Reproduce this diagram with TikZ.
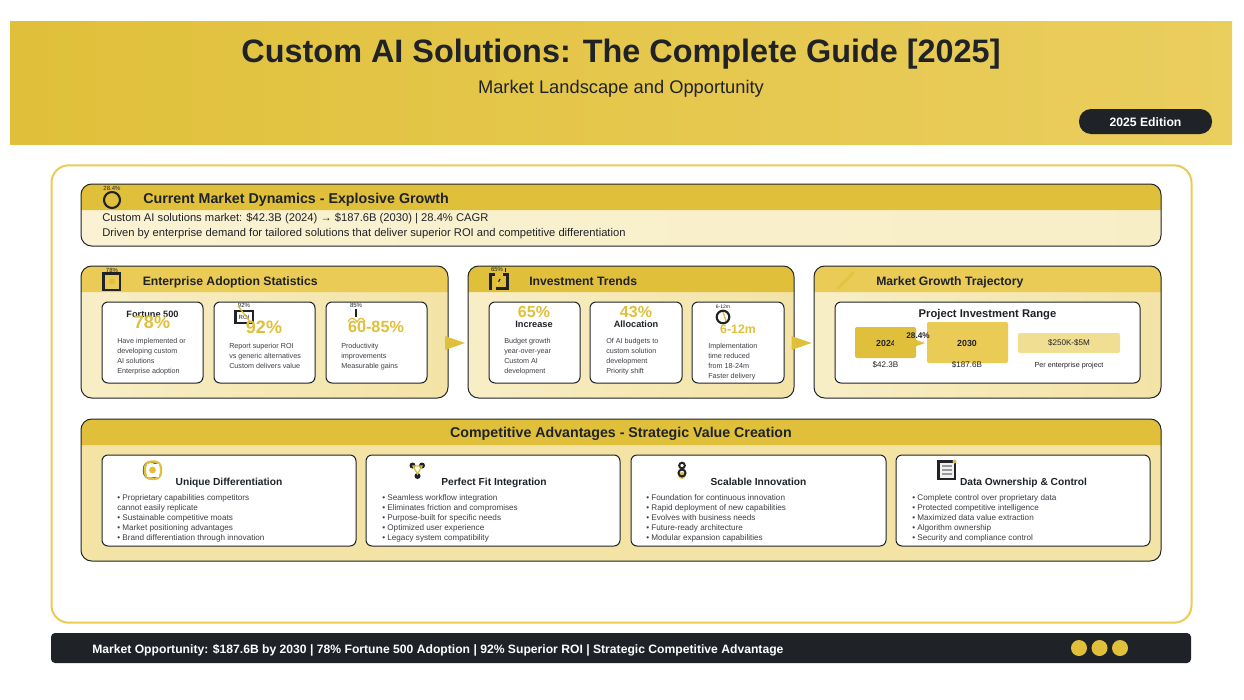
\documentclass[tikz,border=0pt]{standalone}
\usepackage{fontspec}
\setmainfont{Liberation Sans}
\usetikzlibrary{calc}
\definecolor{ink}{HTML}{1F2328}
\definecolor{gA}{HTML}{E0C03A}
\definecolor{gB}{HTML}{E9CB55}
\definecolor{gC}{HTML}{F0DE92}
\definecolor{bA}{HTML}{FAF2D2}
\definecolor{bB}{HTML}{F8EEC6}
\definecolor{bC}{HTML}{F3E3A5}
\definecolor{body}{HTML}{3C3F44}
\newcount\tc
\newcommand\B{\bfseries}
\newcommand\lab[4][]{\global\advance\tc by 1
  \pgfmathsetmacro\fs{#3*0.75}\pgfmathsetmacro\th{#3*0.75*0.72}\pgfmathsetmacro\ls{#3*0.9}
  \node[inner sep=0,text=ink,text height=\th pt,text depth=0pt,font=\fontsize{\fs pt}{\ls pt}\selectfont,#1] (t\the\tc) at (#2) {#4};}
\newcommand\panel[9]{%
  \pgfmathsetmacro\pw{(#4-#2)*0.75}\pgfmathsetmacro\ph{(#5-#3)*0.75}
  \path[shade,shading angle=60,left color=#8,right color=#9,rounded corners=8pt] (#2,#3) rectangle (#4,#5);
  \path[shade,left color=#7,right color=\headB] (#2,#6) [rounded corners=8pt] -- (#2,#3) -- (#4,#3) [sharp corners] -- (#4,#6) -- cycle;
  \node[draw=ink,line width=.75pt,rounded corners=8pt,minimum width=\pw pt,minimum height=\ph pt,inner sep=0,outer sep=0] (#1) at ($(#2,#3)!.5!(#4,#5)$) {};
}
\newcommand\card[5]{%
  \pgfmathsetmacro\pw{(#4-#2)*0.75}\pgfmathsetmacro\ph{(#5-#3)*0.75}
  \node[draw=ink,fill=white,line width=.75pt,rounded corners=4.5pt,minimum width=\pw pt,minimum height=\ph pt,inner sep=0,outer sep=0] (#1) at ($(#2,#3)!.5!(#4,#5)$) {};
}
% \lines{size}{x}{first y}{list}
\newcommand\lines[4]{%
  \foreach \s [count=\i from 0] in {#4} {\pgfmathsetmacro\yy{#3+\i*10}\lab[anchor=west,text=body]{#2,\yy}{#1}{\s}}%
}
\begin{document}
\begin{tikzpicture}[x=0.75pt,y=-0.75pt]
\useasboundingbox (0,0) rectangle (1244,699);
\fill[white] (0,0) rectangle (1244,699);
\node[minimum width=916.5pt,minimum height=91.5pt,inner sep=0,outer sep=0,shade,shading angle=70,left color=gA,right color=gB!85!gC] (band) at (621,83) {};
\lab{621,51}{32.4}{\B Custom AI Solutions: The Complete Guide [2025]}
\lab{621,87}{18.3}{Market Landscape and Opportunity}
\node[fill=ink,rounded corners=9pt,minimum width=99.75pt,minimum height=18.75pt,inner sep=0] (pill) at (1145.5,121.5) {};
\lab[text=white]{1145.5,122}{12.2}{\B 2025 Edition}
\node[draw=gB,fill=white,line width=1.5pt,rounded corners=13pt,minimum width=855pt,minimum height=343pt,inner sep=0,outer sep=0] (main) at (621.5,394) {};
% dynamics
\def\headB{gA}
\panel{dyn}{81}{184}{1161}{246}{210}{gA}{bA}{bB}
\lab[anchor=west]{143,198}{14.25}{\B Current Market Dynamics - Explosive Growth}
\lab[anchor=west]{102,217.5}{11.2}{Custom AI solutions market: \$42.3B (2024) → \$187.6B (2030) | 28.4\% CAGR}
\lab[anchor=west]{102,232.5}{11.2}{Driven by enterprise demand for tailored solutions that deliver superior ROI and competitive differentiation}
\draw[ink,line width=1.6pt] (112,200) circle (8);
\lab{112,188}{6}{28.4\%}
% adoption
\def\headB{gB}
\panel{adopt}{81}{266}{448}{398}{292}{gB}{bB}{bC}
\lab[anchor=west]{142.5,281}{12.2}{\B Enterprise Adoption Statistics}
\draw[ink,line width=1.7pt,fill=gB] (103.5,273.5) rectangle (120,290);
\fill[gA] (112,281.5) circle (3);
\lab{112,270}{6}{78\%}
\card{c1}{102}{302}{203}{383}
\card{c2}{214}{302}{315}{383}
\card{c3}{326}{302}{427}{383}
\lab{152.5,314}{9.2}{\B Fortune 500}
\lab[text=gA]{152,322}{18}{\B 78\%}
\lines{7.2}{117}{340.5}{Have implemented or,developing custom,AI solutions,Enterprise adoption}
\draw[ink,line width=1.7pt,fill=white] (235.5,311) rectangle (253,323);
\lab{244,317}{6}{ROI}
\lab{244,305}{6}{92\%}
\draw[gA,line width=1pt] (238,306) -- (251,323);
\lab[text=gA]{264,327}{18}{\B 92\%}
\lines{7.2}{229}{345.5}{Report superior ROI,vs generic alternatives,Custom delivers value}
\lab{356,305}{6}{85\%}
\draw[ink,line width=1.7pt] (356,309) -- (356,317);
\draw[gA,line width=.9pt] (348,322) .. controls (350,317) and (354,317) .. (357,322) .. controls (359,317) and (363,317) .. (365,322);
\lab[text=gA]{376,327}{16.2}{\B 60-85\%}
\lines{7.2}{341}{345.5}{Productivity,improvements,Measurable gains}
% investment
\def\headB{gA}
\panel{invest}{468}{266}{794}{398}{292}{gA}{bB}{bC}
\lab[anchor=west]{529,281}{12.2}{\B Investment Trends}
\draw[ink,line width=1.7pt] (495,274.5) -- (490.5,274.5) -- (490.5,288.5) -- (492,288.5);
\draw[ink,line width=1.7pt] (496,288.5) -- (507.5,288.5) -- (507.5,274.5) -- (503,274.5);
\draw[ink,line width=.9pt] (500,279) -- (498.5,282);
\draw[gB,line width=.9pt] (498.5,282) -- (497,285);
\lab{497,269.5}{6}{65\%}
\draw[ink,line width=.5pt] (505,268) -- (505,272);
\card{c4}{489}{302}{580}{383}
\card{c5}{590}{302}{682}{383}
\card{c6}{692}{302}{784}{383}
\lab[text=gA]{534,311.5}{16}{\B 65\%}
\lab{534,324}{9.2}{\B Increase}
\lines{7.2}{504}{340.5}{Budget growth,year-over-year,Custom AI,development}
\lab[text=gA]{636,311.5}{16}{\B 43\%}
\lab{636,324}{9.2}{\B Allocation}
\lines{7.2}{606}{340.5}{Of AI budgets to,custom solution,development,Priority shift}
\lab{723,307}{5}{6-12m}
\draw[ink,line width=1.6pt] (723,317) circle (6.3);
\draw[gA,line width=1pt] (723,312) -- (726,321);
\lab[text=gA]{738,329}{12.3}{\B 6-12m}
\lines{7.2}{708}{345.5}{Implementation,time reduced,from 18-24m,Faster delivery}
% market
\def\headB{gB}
\panel{market}{814}{266}{1161}{398}{292}{gB}{bB}{bC}
\lab[anchor=west]{876,281}{12.2}{\B Market Growth Trajectory}
\draw[gA!70!gB,line width=2.2pt,line cap=round] (838,288) -- (853,273);
\card{c7}{835}{302}{1140}{383}
\lab{987.5,313}{11.2}{\B Project Investment Range}
\node[fill=gA,rounded corners=1.5pt,minimum width=45.75pt,minimum height=23.25pt,inner sep=0,outer sep=0] (y24) at (885.5,342.5) {};
\lab{886,343}{8.8}{\B 2024}
\fill[gA] (894.4,338) rectangle (898,348);
\node[fill=gB,rounded corners=1.5pt,minimum width=60.75pt,minimum height=30.75pt,inner sep=0,outer sep=0] (y30) at (967.5,342.5) {};
\lab{967,343}{8.8}{\B 2030}
\node[fill=gC,rounded corners=1.5pt,minimum width=76.5pt,minimum height=15pt,inner sep=0,outer sep=0] (rng) at (1069,343) {};
\lab{1069,343}{8.1}{\$250K-\$5M}
\fill[gA] (915,339.5) -- (925,343) -- (915,346.5) -- cycle;
\lab{918,336}{8.2}{\B 28.4\%}
\lab{885.5,365}{8.1}{\$42.3B}
\lab{967,365}{8.1}{\$187.6B}
\lab{1069,365}{7.2}{Per enterprise project}
% flow arrows
\fill[gA] (445,336) -- (465,343) -- (445,350) -- cycle;
\fill[gA] (791.5,336) -- (811.5,343) -- (791.5,350) -- cycle;
% competitive
\def\headB{gA}
\panel{comp}{81}{419}{1161}{561}{445}{gA}{bC}{bC}
\lab{621,432}{14.2}{\B Competitive Advantages - Strategic Value Creation}
\card{d1}{102}{455}{356}{546}
\card{d2}{366}{455}{620}{546}
\card{d3}{631}{455}{886}{546}
\card{d4}{896}{455}{1150}{546}
\lab{229,482}{10.2}{\B Unique Differentiation}
\draw[ink!70,line width=1.4pt,rounded corners=5pt] (143.8,462) rectangle (158,478.5);
\draw[gA,line width=1.7pt,rounded corners=5pt] (145,461.5) rectangle (161,479);
\fill[white] (147,463.5) rectangle (159,477);
\fill[gA] (152.5,470) circle (3.4);
\lines{8.15}{117}{498}{• Proprietary capabilities competitors,cannot easily replicate,• Sustainable competitive moats,• Market positioning advantages,• Brand differentiation through innovation}
\lab{494,482}{10.2}{\B Perfect Fit Integration}
\fill[ink] (412.5,465.5) circle (3) (422,465.5) circle (3) (417.5,476) circle (3);
\draw[gA,line width=1pt] (413,466) -- (422,466) -- (417.5,474) -- cycle;
\lines{8.15}{382}{498}{• Seamless workflow integration,• Eliminates friction and compromises,• Purpose-built for specific needs,• Optimized user experience,• Legacy system compatibility}
\lab{758.5,482}{10.2}{\B Scalable Innovation}
\fill[gA] (682,475.5) circle (3.5);
\draw[ink,line width=1.5pt] (682,465.5) circle (2.8) (682,473) circle (3.5);
\lines{8.15}{646}{498}{• Foundation for continuous innovation,• Rapid deployment of new capabilities,• Evolves with business needs,• Future-ready architecture,• Modular expansion capabilities}
\lab{1023.5,482}{10.2}{\B Data Ownership \& Control}
\draw[ink,line width=1.7pt,fill=gray!12] (938.5,461.5) rectangle (955,479);
\draw[gray!80,line width=1.1pt] (942,466) -- (952,466) (942,470) -- (952,470) (942,474) -- (952,474);
\fill[gA] (954.5,461.5) circle (2);
\lines{8.15}{912}{498}{• Complete control over proprietary data,• Protected competitive intelligence,• Maximized data value extraction,• Algorithm ownership,• Security and compliance control}
% footer
\node[fill=ink,rounded corners=3pt,minimum width=855pt,minimum height=22.5pt,inner sep=0,outer sep=0] (foot) at (621,648) {};
\lab[anchor=west,text=white]{92,649}{12.15}{\B Market Opportunity: \$187.6B by 2030 | 78\% Fortune 500 Adoption | 92\% Superior ROI | Strategic Competitive Advantage}
\fill[gA] (1079,648) circle (8) (1099.5,648) circle (8) (1120,648) circle (8);
\end{tikzpicture}
\end{document}
